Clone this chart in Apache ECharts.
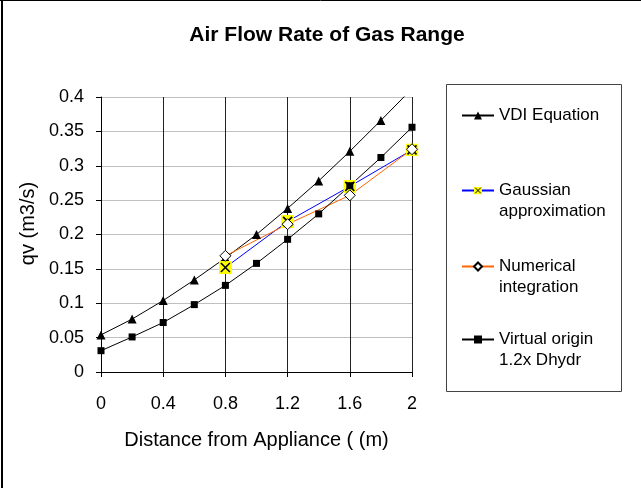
<!DOCTYPE html>
<html>
<head>
<meta charset="utf-8">
<script src="https://cdn.jsdelivr.net/npm/echarts@6/dist/echarts.min.js"></script>
<style>
  html, body { margin: 0; padding: 0; background: #fff; }
  #main { width: 641px; height: 488px; }
</style>
</head>
<body>
<div id="main"></div>
<script>
// distances (m)
const distFull = [0, 0.2, 0.4, 0.6, 0.8, 1.0, 1.2, 1.4, 1.6, 1.8, 2.0];
const distPart = [0.8, 1.2, 1.6, 2.0];
// qv (m3/s)
const vdiEquation = [0.054, 0.077, 0.104, 0.134, 0.166, 0.200, 0.238, 0.278, 0.321, 0.366, 0.412];
const virtualOrigin = [0.031, 0.051, 0.072, 0.098, 0.126, 0.158, 0.193, 0.230, 0.271, 0.312, 0.356];
const gaussian = [0.152, 0.219, 0.270, 0.323];
const numerical = [0.169, 0.215, 0.257, 0.324];

const seriesNames = ['VDI Equation', 'Gaussian\napproximation', 'Numerical\nintegration', 'Virtual origin\n1.2x Dhydr'];

const pairs = (xs, ys) => xs.map((x, i) => [x, ys[i]]);

// yellow square with a black cross, like the excel marker
const gaussSvg = "<svg xmlns='http://www.w3.org/2000/svg' width='13' height='13'>" +
  "<rect width='13' height='13' fill='#ffff00'/>" +
  "<path d='M2 2L11 11M11 2L2 11' stroke='#000' stroke-width='1.6'/></svg>";
const gaussSymbol = 'image://data:image/svg+xml;charset=utf-8,' + encodeURIComponent(gaussSvg);

const font = 'Liberation Sans, Arial, sans-serif';

const chart = echarts.init(document.getElementById('main'));

// one legend per entry so each sits where excel put it;
// two-line names get an empty first line so the marker lines up with the first text line
const legendTops = [105, 159, 235, 308];
const legends = seriesNames.map((name, i) => ({
  data: [name],
  left: 461,
  top: legendTops[i],
  padding: 0,
  itemWidth: 32,
  itemHeight: 10,
  selectedMode: false,
  formatter: n => (n.indexOf('\n') >= 0 ? '\n' + n : n),
  textStyle: {
    fontFamily: font,
    fontSize: 17,
    color: '#000',
    lineHeight: 21,
  },
}));

const option = {
  animation: false,
  backgroundColor: '#fff',
  title: {
    text: 'Air Flow Rate of Gas Range',
    left: 322,
    top: 20,
    textAlign: 'center',
    textStyle: { fontFamily: font, fontSize: 21, fontWeight: 'bold', color: '#000' },
  },
  legend: legends,
  grid: {
    left: 101,
    right: 229,
    top: 97,
    bottom: 116,
    containLabel: false,
    outerBoundsMode: 'none',
  },
  xAxis: {
    type: 'value',
    min: 0,
    max: 2,
    interval: 0.4,
    name: 'Distance from Appliance ( (m)',
    nameLocation: 'middle',
    nameGap: 58,
    nameTextStyle: { fontFamily: font, fontSize: 20, color: '#000' },
    axisLine: { show: true, lineStyle: { color: '#000' } },
    axisTick: { show: true, length: 5, lineStyle: { color: '#000' } },
    axisLabel: { fontFamily: font, fontSize: 18, color: '#000', margin: 23 },
    splitLine: { show: true, lineStyle: { color: '#222' } },
  },
  yAxis: {
    type: 'value',
    min: 0,
    max: 0.4,
    interval: 0.05,
    name: 'qv (m3/s)',
    nameLocation: 'middle',
    nameGap: 63,
    nameTextStyle: { fontFamily: font, fontSize: 20, color: '#000', padding: [0, 0, 0, 22] },
    axisLine: { show: true, lineStyle: { color: '#000' } },
    axisTick: { show: true, length: 5, lineStyle: { color: '#000' } },
    axisLabel: { fontFamily: font, fontSize: 18, color: '#000', margin: 17 },
    splitLine: { show: true, lineStyle: { color: '#c0c0c0' } },
  },
  series: [
    {
      name: seriesNames[0],
      type: 'line',
      data: pairs(distFull, vdiEquation),
      symbol: 'triangle',
      symbolSize: 9,
      lineStyle: { color: '#000', width: 1 },
      itemStyle: { color: '#000' },
    },
    {
      name: seriesNames[1],
      type: 'line',
      data: pairs(distPart, gaussian),
      symbol: gaussSymbol,
      symbolSize: 13,
      lineStyle: { color: '#0000ff', width: 1 },
      itemStyle: { color: '#ffff00' },
    },
    {
      name: seriesNames[2],
      type: 'line',
      data: pairs(distPart, numerical),
      symbol: 'diamond',
      symbolSize: 11,
      lineStyle: { color: '#ff6600', width: 1 },
      itemStyle: { color: '#fff', borderColor: '#000', borderWidth: 1 },
    },
    {
      name: seriesNames[3],
      type: 'line',
      data: pairs(distFull, virtualOrigin),
      symbol: 'rect',
      symbolSize: 7,
      lineStyle: { color: '#000', width: 1 },
      itemStyle: { color: '#000' },
    },
  ],
  graphic: [
    // legend frame
    { type: 'rect', shape: { x: 446.5, y: 84.5, width: 175, height: 307 },
      style: { fill: 'none', stroke: '#444', lineWidth: 1 }, z: -1 },
    // outer chart frame (left and top edges)
    { type: 'line', shape: { x1: 2, y1: 0, x2: 2, y2: 488 }, style: { stroke: '#000', lineWidth: 2 } },
    { type: 'line', shape: { x1: 0, y1: 0.5, x2: 641, y2: 0.5 }, style: { stroke: '#000', lineWidth: 1 } },
  ],
};

chart.setOption(option);
</script>
</body>
</html>
